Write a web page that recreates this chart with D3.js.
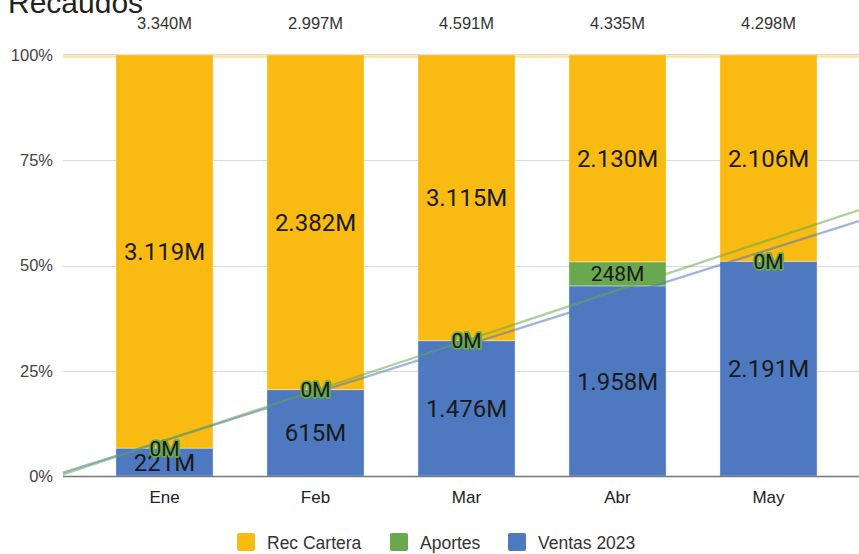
<!DOCTYPE html>
<html><head><meta charset="utf-8">
<script src="https://cdn.jsdelivr.net/npm/d3@7"></script>
<style>
body{margin:0;background:#fff;}
svg{display:block;}
</style></head>
<body><svg id="c" width="859" height="554"></svg>
<script>
const months = ["Ene","Feb","Mar","Abr","May"];
const ventas = [221, 615, 1476, 1958, 2191];
const aportes = [0, 0, 0, 248, 0];
const recCartera = [3119, 2382, 3115, 2130, 2106];
const totals = ["3.340M","2.997M","4.591M","4.335M","4.298M"];
const yTicks = [0, 25, 50, 75, 100];
const seriesNames = ["Ventas 2023","Aportes","Rec Cartera"];
const legendOrder = ["Rec Cartera","Aportes","Ventas 2023"];
const colors = {"Ventas 2023":"#4e79c0","Aportes":"#6aa84f","Rec Cartera":"#f9bb12"};

const svg = d3.select("#c");
const plotL = 63, plotR = 859, plotT = 55, plotB = 476;
const x = d3.scaleBand().domain(months).range([89, 844]).paddingInner(0.357).paddingOuter(0.1785);
const y = d3.scaleLinear().domain([0, 100]).range([plotB, plotT]);
const xi = d3.scaleLinear().domain([0, 1]).range([x("Ene") + x.bandwidth()/2, x("Feb") + x.bandwidth()/2]);

const fmt = d3.formatLocale({decimal:",", thousands:".", grouping:[3], currency:["$",""]}).format(",.0f");

const rows = months.map((m, i) => {
  const vals = [ventas[i], aportes[i], recCartera[i]];
  const sum = d3.sum(vals);
  let acc = 0;
  const segs = vals.map((v, k) => {
    const y0 = acc / sum * 100; acc += v; const y1 = acc / sum * 100;
    return {m, i, name: seriesNames[k], v, y0, y1};
  });
  return {m, i, segs};
});

// title
svg.append("text").attr("x", 8).attr("y", 13).attr("font-family","Liberation Sans, Arial, sans-serif")
  .attr("font-size", 30).attr("fill", "#222").text("Recaudos");

// gridlines
svg.append("g").selectAll("line").data(yTicks.filter(t => t > 0)).join("line")
  .attr("x1", plotL).attr("x2", plotR).attr("y1", d => Math.round(y(d)) + (d === 100 ? -0.5 : 0.5)).attr("y2", d => Math.round(y(d)) + (d === 100 ? -0.5 : 0.5))
  .attr("stroke", "#d9d9d9").attr("stroke-width", 1);

// y labels
svg.append("g").selectAll("text").data(yTicks).join("text")
  .attr("x", 53).attr("y", d => y(d)).attr("dy", "0.35em").attr("text-anchor", "end")
  .attr("font-family","Liberation Sans, Arial, sans-serif").attr("font-size", 16.5).attr("fill", "#444")
  .text(d => d + "%");

// bars
const segsAll = rows.flatMap(r => r.segs);
svg.append("g").selectAll("rect").data(segsAll.filter(s => s.v > 0)).join("rect")
  .attr("x", d => x(d.m)).attr("width", x.bandwidth())
  .attr("y", d => y(d.y1)).attr("height", d => y(d.y0) - y(d.y1))
  .attr("fill", d => colors[d.name])
  .attr("stroke", "rgba(255,255,255,0.35)").attr("stroke-width", 1);

// baseline
svg.append("line").attr("x1", plotL).attr("x2", plotR).attr("y1", y(0) + 0.5).attr("y2", y(0) + 0.5)
  .attr("stroke", "#777").attr("stroke-width", 1.3);

// trendlines (linear regression of each series' stacked top)
const trendG = svg.append("g");
seriesNames.forEach((name, k) => {
  const pts = rows.map(r => [r.i, r.segs[k].y1]);
  const mx = d3.mean(pts, p => p[0]), my = d3.mean(pts, p => p[1]);
  const sxy = d3.sum(pts, p => (p[0]-mx)*(p[1]-my)), sxx = d3.sum(pts, p => (p[0]-mx)**2);
  const b = sxy / sxx, a = my - b * mx;
  const i0 = xi.invert(plotL), i1 = xi.invert(plotR);
  const off = name === "Rec Cartera" ? 1.5 : 0;
  trendG.append("line")
    .attr("x1", plotL).attr("x2", plotR)
    .attr("y1", y(a + b*i0) + off).attr("y2", y(a + b*i1) + off)
    .attr("stroke", colors[name]).attr("stroke-opacity", name === "Rec Cartera" ? 0.4 : 0.55).attr("stroke-width", 2.3);
});

// data labels
const lab = svg.append("g").attr("font-family","Roboto, sans-serif").attr("text-anchor","middle").attr("fill","#1a1a1a");
segsAll.forEach(d => {
  const cy = (y(d.y0) + y(d.y1)) / 2;
  const isAp = d.name === "Aportes";
  const t = lab.append("text").attr("x", x(d.m) + x.bandwidth()/2).attr("y", cy).attr("dy", "0.36em")
    .attr("font-size", isAp ? 21 : 24).text(fmt(d.v) + "M");
  if (isAp && d.v === 0) {
    t.attr("stroke", colors["Aportes"]).attr("stroke-width", 3.5).attr("paint-order", "stroke").attr("stroke-linejoin","round");
  }
});

// totals
svg.append("g").selectAll("text").data(months).join("text")
  .attr("x", d => x(d) + x.bandwidth()/2).attr("y", 29).attr("text-anchor", "middle")
  .attr("font-family","Liberation Sans, Arial, sans-serif").attr("font-size", 16.5).attr("fill", "#333")
  .text((d, i) => totals[i]);

// x labels
svg.append("g").selectAll("text").data(months).join("text")
  .attr("x", d => x(d) + x.bandwidth()/2).attr("y", 503).attr("text-anchor", "middle")
  .attr("font-family","Liberation Sans, Arial, sans-serif").attr("font-size", 17).attr("fill", "#222")
  .text(d => d);

// legend
const legX = {"Rec Cartera": 237, "Aportes": 390, "Ventas 2023": 508};
const leg = svg.append("g");
legendOrder.forEach(name => {
  leg.append("rect").attr("x", legX[name]).attr("y", 533).attr("width", 18).attr("height", 18).attr("rx", 2)
    .attr("fill", colors[name]);
  leg.append("text").attr("x", legX[name] + 30).attr("y", 549)
    .attr("font-family","Liberation Sans, Arial, sans-serif").attr("font-size", 17.5).attr("fill", "#333").text(name);
});
</script></body></html>
